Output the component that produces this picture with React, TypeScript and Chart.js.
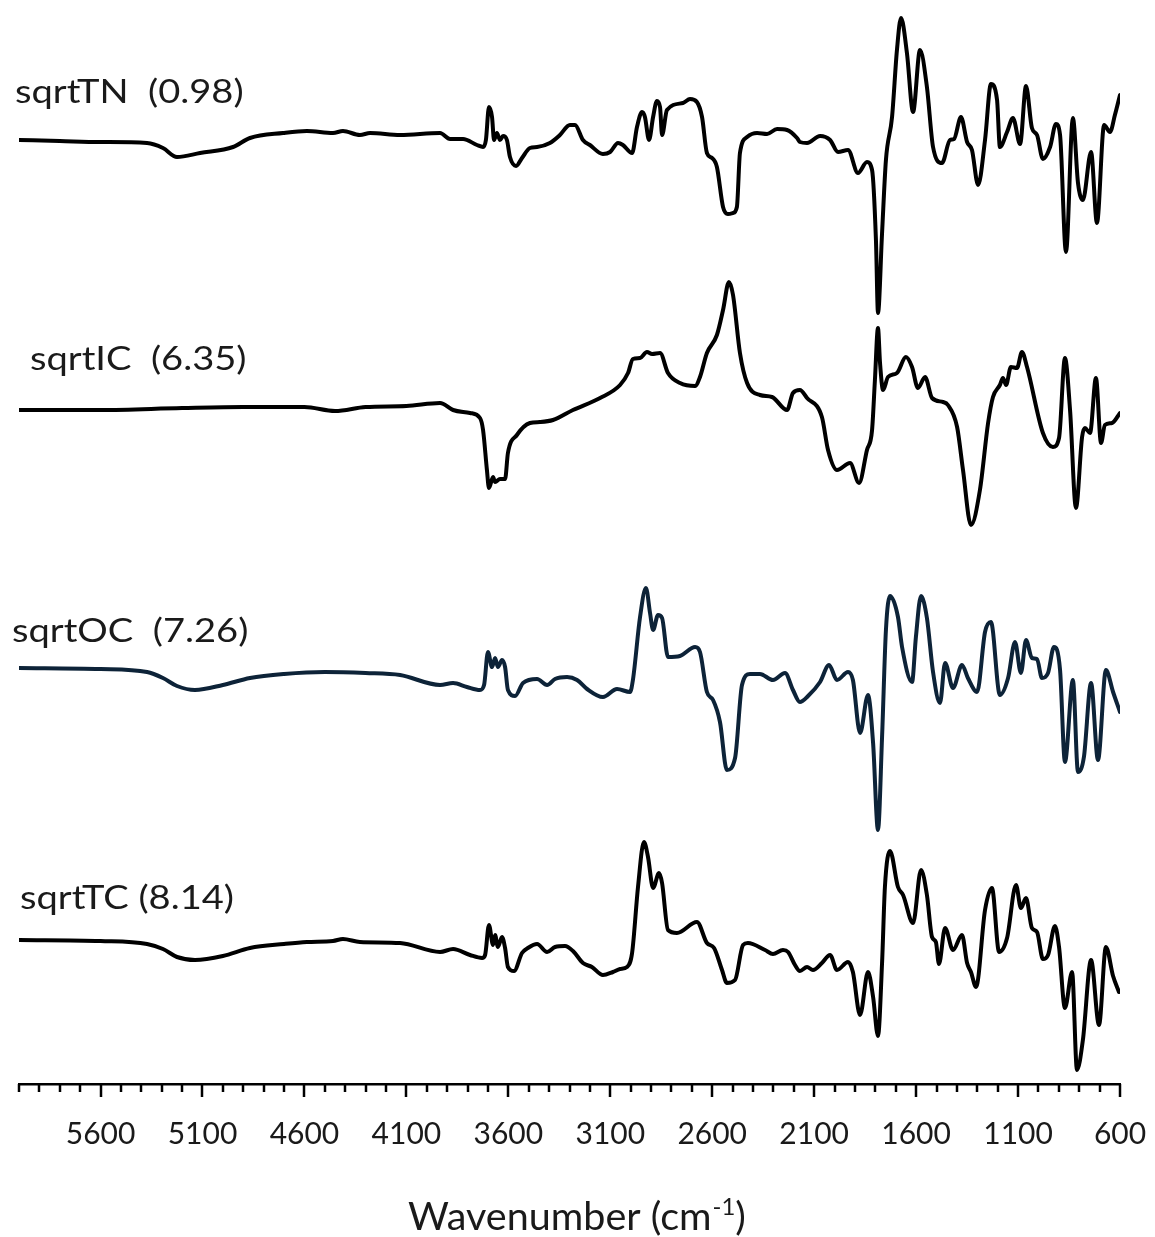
import React, { useEffect, useRef } from "react";
import { Chart, registerables } from "chart.js";

Chart.register(...registerables);

// Wavenumber grid (cm-1) and relative intensity (a.u.) for each spectrum
const WN_TN = [6000, 5800, 5603, 5372, 5294, 5225, 5112, 4950, 4867, 4705, 4588, 4460, 4411, 4328, 4278, 4131, 3935, 3886, 3822, 3754, 3724, 3710, 3695, 3680, 3670, 3656, 3641, 3626, 3607, 3592, 3562, 3533, 3494, 3459, 3396, 3347, 3298, 3273, 3234, 3200, 3136, 3101, 3062, 3038, 2993, 2969, 2944, 2930, 2910, 2890, 2871, 2856, 2846, 2822, 2743, 2709, 2675, 2650, 2626, 2601, 2577, 2547, 2523, 2498, 2479, 2464, 2429, 2380, 2331, 2282, 2233, 2184, 2170, 2135, 2071, 2022, 1983, 1934, 1885, 1841, 1816, 1797, 1787, 1767, 1748, 1718, 1694, 1674, 1645, 1615, 1581, 1547, 1517, 1473, 1434, 1414, 1380, 1350, 1326, 1296, 1262, 1233, 1203, 1189, 1154, 1125, 1090, 1061, 1032, 1007, 978, 943, 914, 894, 865, 831, 806, 782, 742, 713, 678, 649, 625, 600];
const TN = [1, 0, -1, -2, -7, -16, -12, -6, 3, 8, 10, 8, 10, 6, 8, 6, 8, 2, 2, -4, -6, 1, 34, 24, 1, 8, 1, 5, 1, -16, -25, -17, -7, -6, -2, 6, 16, 16, 1, -4, -13, -11, -2, -4, -12, 14, 29, 24, 1, 24, 40, 34, 6, 31, 38, 42, 39, 24, -12, -17, -26, -66, -73, -72, -66, -12, 4, 8, 7, 12, 11, 3, -1, -2, 5, 1, -11, -9, -32, -21, -29, -99, -172, -92, -19, 24, 91, 123, 88, 29, 91, 54, -6, -22, 1, 2, 24, -1, -9, -44, 1, 57, 41, -6, 9, 23, -3, 55, 13, 6, -18, -6, 17, 6, -111, 23, -42, -59, -11, -82, 16, 9, 26, 46];

const WN_IC = [6000, 5600, 5200, 4900, 4600, 4450, 4300, 4100, 3935, 3871, 3788, 3739, 3724, 3705, 3695, 3675, 3665, 3641, 3616, 3602, 3558, 3494, 3445, 3381, 3283, 3150, 3052, 3013, 2989, 2954, 2920, 2895, 2856, 2817, 2758, 2684, 2660, 2626, 2577, 2547, 2518, 2498, 2464, 2429, 2366, 2307, 2233, 2204, 2170, 2135, 2062, 2032, 1988, 1924, 1880, 1841, 1816, 1802, 1787, 1777, 1762, 1738, 1694, 1650, 1620, 1591, 1556, 1522, 1468, 1444, 1399, 1370, 1331, 1287, 1247, 1223, 1189, 1174, 1159, 1135, 1105, 1081, 1056, 978, 929, 899, 870, 845, 816, 786, 772, 747, 718, 693, 674, 639, 600];
const IC = [0, 0, 2, 3, 3, -1, 3, 4, 7, 0, -3, -8, -20, -60, -78, -67, -72, -69, -69, -43, -25, -13, -12, -10, 0, 12, 25, 37, 51, 52, 58, 56, 57, 37, 27, 24, 33, 57, 75, 100, 128, 115, 57, 27, 15, 13, 0, 17, 20, 12, -7, -40, -60, -53, -73, -40, -20, 30, 82, 47, 20, 33, 37, 53, 43, 22, 33, 12, 8, 5, -17, -60, -115, -80, -13, 13, 25, 32, 25, 43, 42, 58, 43, -23, -37, -28, 52, 0, -98, -27, -18, -23, 32, -33, -15, -13, -3];

const WN_OC = [6000, 5600, 5372, 5294, 5225, 5137, 5000, 4867, 4700, 4500, 4300, 4131, 3935, 3871, 3803, 3739, 3719, 3700, 3680, 3665, 3651, 3631, 3616, 3602, 3567, 3528, 3459, 3410, 3371, 3312, 3263, 3214, 3136, 3067, 3003, 2989, 2954, 2925, 2905, 2890, 2866, 2846, 2817, 2758, 2684, 2660, 2626, 2596, 2562, 2528, 2488, 2454, 2415, 2366, 2302, 2243, 2204, 2170, 2130, 2071, 2027, 1988, 1934, 1910, 1875, 1836, 1811, 1787, 1767, 1748, 1728, 1689, 1669, 1620, 1601, 1576, 1547, 1517, 1483, 1458, 1419, 1375, 1346, 1301, 1262, 1233, 1189, 1149, 1115, 1086, 1061, 1032, 1007, 983, 953, 924, 894, 870, 831, 806, 777, 742, 708, 669, 634, 600];
const OC = [0, -1, -4, -10, -18, -22, -17, -10, -6, -4, -5, -7, -17, -15, -19, -22, -17, 16, 1, 10, 1, 8, 1, -22, -28, -15, -11, -17, -11, -9, -12, -21, -29, -21, -24, -12, 51, 80, 55, 38, 53, 50, 11, 12, 21, 16, -24, -32, -54, -102, -90, -17, -6, -6, -12, -5, -22, -34, -28, -14, 3, -12, -4, -12, -65, -27, -75, -162, -69, 38, 72, 51, 21, -14, 31, 72, 50, -4, -35, 5, -20, 3, -10, -24, 36, 46, -27, -10, 26, -5, 28, 10, 9, -10, -5, 21, -2, -94, -12, -104, -89, -15, -92, -2, -24, -44];

const WN_TC = [6000, 5600, 5372, 5294, 5225, 5137, 5000, 4867, 4700, 4588, 4460, 4411, 4328, 4131, 3935, 3871, 3788, 3729, 3714, 3695, 3675, 3665, 3651, 3631, 3616, 3602, 3572, 3533, 3504, 3459, 3410, 3371, 3322, 3283, 3234, 3190, 3136, 3087, 3052, 3018, 2993, 2964, 2935, 2915, 2890, 2861, 2846, 2817, 2773, 2675, 2626, 2591, 2552, 2528, 2488, 2449, 2425, 2341, 2302, 2253, 2228, 2194, 2170, 2135, 2106, 2062, 2022, 1988, 1934, 1910, 1875, 1836, 1811, 1787, 1767, 1753, 1728, 1689, 1664, 1615, 1576, 1547, 1522, 1503, 1488, 1458, 1419, 1375, 1350, 1331, 1306, 1262, 1228, 1193, 1154, 1110, 1086, 1061, 1032, 1007, 978, 953, 919, 899, 870, 835, 811, 782, 742, 703, 669, 634, 605];
const TC = [0, -1, -4, -9, -17, -20, -16, -8, -4, -2, -1, 1, -2, -3, -12, -9, -15, -18, -15, 15, -5, 5, -7, 3, -8, -27, -31, -13, -8, -4, -12, -7, -6, -11, -23, -27, -35, -32, -29, -27, -13, 53, 98, 83, 52, 67, 57, 10, 7, 18, -3, -8, -30, -43, -40, -5, -3, -10, -14, -10, -12, -25, -31, -27, -30, -23, -15, -30, -22, -32, -75, -32, -57, -96, -23, 53, 89, 53, 45, 17, 70, 45, 3, -2, -24, 12, -10, 5, -23, -32, -47, 30, 52, -12, 2, 55, 32, 42, 12, 8, -19, -15, 14, -7, -68, -32, -130, -100, -20, -85, -7, -36, -52];

// Series names, vertical stacking offsets and line colours
const SERIES_NAMES = ["sqrtTN  (0.98)", "sqrtIC  (6.35)", "sqrtOC  (7.26)", "sqrtTC (8.14)"];
const SERIES_OFFSETS = [943, 674, 416, 144];
const SERIES_COLORS = ["#000000", "#000000", "#0d2338", "#000000"];

// Axis range and labelled ticks
const X_MAX = 6000;
const X_MIN = 600;
const MINOR_STEP = 100;
const TICK_LABELS = [5600, 5100, 4600, 4100, 3600, 3100, 2600, 2100, 1600, 1100, 600];
const Y_MAX = 1084;
const X_AXIS_HEIGHT = 153;

const FONT = "Lato, 'Open Sans', sans-serif";

// Where each series name sits (left edge / baseline, px)
const NAME_POS = [
  { x: 15, y: 103 },
  { x: 30, y: 370 },
  { x: 12, y: 642 },
  { x: 20, y: 909 },
];
const NAME_SIZE = 32;
const NAME_STRETCH = 1.19;

const decorations = {
  id: "decorations",
  afterDraw(chart: any) {
    const ctx: CanvasRenderingContext2D = chart.ctx;
    const xs = chart.scales.x;
    const y0 = chart.chartArea.bottom;
    ctx.save();
    // tick marks below the axis line
    ctx.strokeStyle = "#000";
    ctx.lineWidth = 2.5;
    ctx.lineCap = "butt";
    for (let v = X_MAX; v >= X_MIN; v -= MINOR_STEP) {
      const px = Math.round(xs.getPixelForValue(v));
      const len = TICK_LABELS.includes(v) ? 13 : 8;
      ctx.beginPath();
      ctx.moveTo(px, y0);
      ctx.lineTo(px, y0 + len);
      ctx.stroke();
    }
    // series names
    ctx.fillStyle = "#1a1a1a";
    ctx.textBaseline = "alphabetic";
    ctx.textAlign = "left";
    ctx.font = `${NAME_SIZE}px ${FONT}`;
    SERIES_NAMES.forEach((name, i) => {
      ctx.save();
      ctx.translate(NAME_POS[i].x, NAME_POS[i].y);
      ctx.scale(NAME_STRETCH, 1);
      ctx.fillText(name, 0, 0);
      ctx.restore();
    });
    // axis title with superscript
    const main = "Wavenumber (cm";
    const sup = "-1";
    const close = ")";
    const big = `38px ${FONT}`;
    const small = `23px ${FONT}`;
    ctx.font = big;
    const w1 = ctx.measureText(main).width;
    const w3 = ctx.measureText(close).width;
    ctx.font = small;
    const w2 = ctx.measureText(sup).width;
    const total = (w1 + w2 + w3) * 1.04;
    const cx = (xs.left + xs.right) / 2 + 7;
    ctx.translate(cx - total / 2, 1230);
    ctx.scale(1.04, 1);
    let x = 0;
    ctx.font = big;
    ctx.fillText(main, x, 0);
    x += w1 + 1;
    ctx.font = small;
    ctx.fillText(sup, x, -15);
    x += w2;
    ctx.font = big;
    ctx.fillText(close, x, 0);
    ctx.restore();
  },
};

export default function App() {
  const ref = useRef<HTMLCanvasElement | null>(null);

  useEffect(() => {
    document.body.style.margin = "0";
    const canvas = ref.current;
    if (!canvas) return;
    const wns = [WN_TN, WN_IC, WN_OC, WN_TC];
    const vals = [TN, IC, OC, TC];
    const datasets = SERIES_NAMES.map((name, i) => ({
      label: name,
      data: wns[i].map((w, k) => ({ x: w, y: SERIES_OFFSETS[i] + vals[i][k] })),
      borderColor: SERIES_COLORS[i],
      borderWidth: 4,
      pointRadius: 0,
      cubicInterpolationMode: "monotone" as const,
      borderJoinStyle: "round" as const,
      borderCapStyle: "round" as const,
      fill: false,
    }));
    const chart = new Chart(canvas, {
      type: "line",
      data: { datasets },
      options: {
        responsive: false,
        animation: false,
        devicePixelRatio: 1,
        layout: { padding: { left: 19, right: 35, top: 0, bottom: 0 } },
        plugins: { legend: { display: false }, tooltip: { enabled: false } },
        scales: {
          x: {
            type: "linear",
            min: X_MIN,
            max: X_MAX,
            reverse: true,
            afterBuildTicks: (scale: any) => {
              scale.ticks = TICK_LABELS.map((v) => ({ value: v }));
            },
            afterFit: (scale: any) => {
              scale.height = X_AXIS_HEIGHT;
              scale.paddingLeft = 0;
              scale.paddingRight = 0;
            },
            grid: { display: false, drawTicks: false },
            border: { display: true, color: "#000", width: 2.5 },
            ticks: {
              padding: 32,
              autoSkip: false,
              maxRotation: 0,
              color: "#1a1a1a",
              font: { family: FONT, size: 30 },
              callback: (v: any) => String(v),
            },
          },
          y: { type: "linear", display: false, min: 0, max: Y_MAX },
        },
      },
      plugins: [decorations],
    });
    return () => chart.destroy();
  }, []);

  return (
    <div style={{ position: "absolute", left: 0, top: 0, width: 1155, height: 1237, background: "#fff" }}>
      <canvas ref={ref} width={1155} height={1237} />
    </div>
  );
}
